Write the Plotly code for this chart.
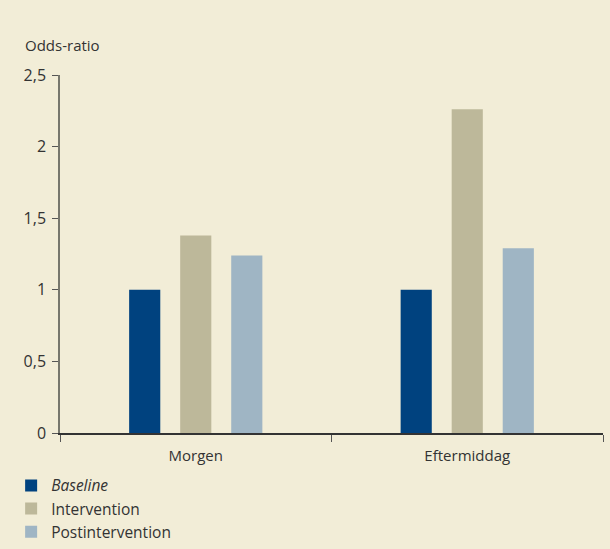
import plotly.graph_objects as go

categories = ["Morgen", "Eftermiddag"]
series_names = ["<i>Baseline</i>", "Intervention", "Postintervention"]
baseline = [1.0, 1.0]
intervention = [1.38, 2.26]
postintervention = [1.24, 1.29]
colors = ["#00427F", "#BDB89A", "#9FB5C4"]
y_ticks = [0, 0.5, 1, 1.5, 2, 2.5]

FONT = "Open Sans"
TEXT = "#333333"
BG = "#F2EDD7"

fig = go.Figure()
for name, vals, col in zip(series_names, [baseline, intervention, postintervention], colors):
    fig.add_trace(go.Bar(x=categories, y=vals, name=name, marker=dict(color=col, line=dict(width=0))))

fig.update_layout(
    width=610, height=549,
    paper_bgcolor=BG, plot_bgcolor=BG,
    margin=dict(l=60, r=7, t=75, b=116, autoexpand=False),
    barmode="group", bargap=0.436, bargroupgap=0.39,
    separators=",.",
    font=dict(family=FONT, size=15, color=TEXT),
    showlegend=True,
    legend=dict(
        x=-0.09, y=-0.1, xanchor="left", yanchor="top",
        orientation="v", bgcolor="rgba(0,0,0,0)",
        font=dict(family=FONT, size=15.5, color=TEXT),
        itemwidth=30, tracegroupgap=0,
    ),
    xaxis=dict(
        showgrid=False, zeroline=False,
        showline=True, linecolor="#333333", linewidth=1.5,
        ticks="outside", tickson="boundaries", ticklen=7, tickcolor="#555555",
        tickfont=dict(family=FONT, size=15, color=TEXT),
        ticklabelstandoff=8,
    ),
    yaxis=dict(
        range=[0, 2.5], tickvals=y_ticks, tickformat=".1~f",
        showgrid=False, zeroline=False,
        showline=True, linecolor="#77776d", linewidth=1.5,
        ticks="outside", ticklen=6, tickcolor="#555555",
        tickfont=dict(family=FONT, size=16, color=TEXT),
        ticklabelstandoff=3,
    ),
    annotations=[dict(
        text="Odds-ratio", xref="paper", yref="paper",
        x=-0.068, y=1.084, xanchor="left", yanchor="middle",
        showarrow=False, font=dict(family=FONT, size=15, color=TEXT),
    )],
)

fig.write_html("out.html")
